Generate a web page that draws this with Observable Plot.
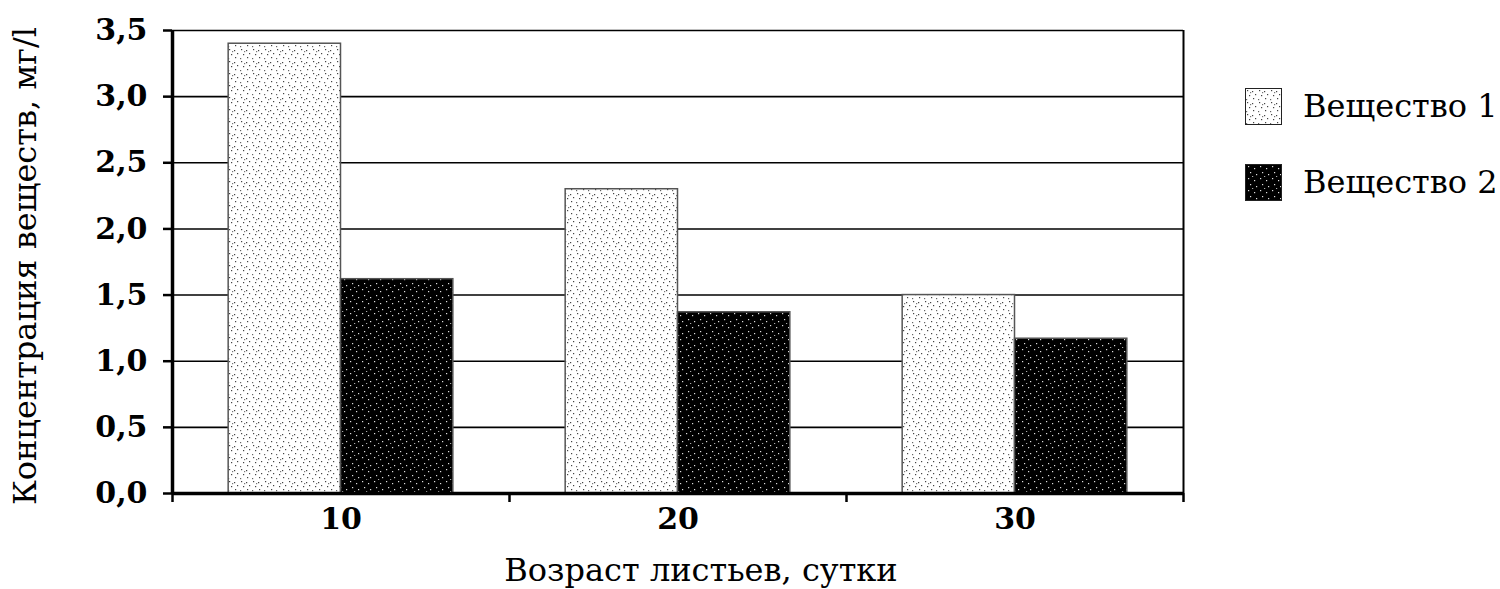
<!DOCTYPE html>
<html>
<head>
<meta charset="utf-8">
<script src="https://cdn.jsdelivr.net/npm/d3@7"></script>
<script src="https://cdn.jsdelivr.net/npm/@observablehq/plot@0.6"></script>
<style>
  body { margin: 0; background: white; }
  #wrap { position: relative; width: 1500px; height: 589px; }
  #legend { position: absolute; left: 1245px; top: 87px; font-family: "DejaVu Serif", serif; font-size: 32px; color: black; }
  .item { display: flex; align-items: center; height: 38px; margin-bottom: 38px; }
  .sw { width: 35px; height: 35px; border: 1.5px solid #222; margin-right: 21px; }
</style>
</head>
<body>
<svg width="0" height="0" style="position:absolute">
  <defs>
    <pattern id="dots1" width="12" height="12" patternUnits="userSpaceOnUse">
      <rect width="12" height="12" fill="white"/>
      <rect x="1" y="1" width="1.2" height="1.2" fill="#444"/>
      <rect x="6" y="2" width="1.2" height="1.2" fill="#444"/>
      <rect x="9" y="5" width="1.2" height="1.2" fill="#444"/>
      <rect x="3" y="6" width="1.2" height="1.2" fill="#444"/>
      <rect x="7" y="9" width="1.2" height="1.2" fill="#444"/>
      <rect x="0" y="10" width="1.2" height="1.2" fill="#666"/>
      <rect x="4" y="3" width="1.2" height="1.2" fill="#777"/>
    </pattern>
    <pattern id="dots2" width="12" height="12" patternUnits="userSpaceOnUse">
      <rect width="12" height="12" fill="black"/>
      <rect x="2" y="1" width="1.2" height="1.2" fill="#ddd"/>
      <rect x="8" y="3" width="1.2" height="1.2" fill="#ddd"/>
      <rect x="4" y="7" width="1.2" height="1.2" fill="#ddd"/>
      <rect x="10" y="9" width="1.2" height="1.2" fill="#ddd"/>
      <rect x="6" y="11" width="1.2" height="1.2" fill="#aaa"/>
    </pattern>
  </defs>
</svg>
<div id="wrap">
  <div id="chart"></div>
  <div id="legend"></div>
</div>
<script>
const locale = d3.formatLocale({decimal: ',', thousands: ' ', grouping: [3], currency: ['', '']})

// данные
const ages = [10, 20, 30]
const substances = ['Вещество 1', 'Вещество 2']
const substance1 = [3.4, 2.3, 1.5]
const substance2 = [1.62, 1.37, 1.17]
const yTicks = [0, 0.5, 1, 1.5, 2, 2.5, 3, 3.5]
const groupEdges = [5, 15, 25, 35]
const patterns = ['url(#dots1)', 'url(#dots2)']

const yLabel = 'Концентрация веществ, мг/l'
const xLabel = 'Возраст листьев, сутки'

// ширина столбика: треть группы
const step = ages[1] - ages[0]
const barW = step / 3

const rows = []
;[substance1, substance2].forEach((vals, i) => {
  ages.forEach((age, j) => {
    rows.push({
      age: age,
      substance: substances[i],
      value: vals[j],
      x1: age + (i - 1) * barW,
      x2: age + i * barW,
    })
  })
})

let chart = Plot.plot({
  width: 1500,
  height: 589,
  marginLeft: 172,
  marginRight: 317,
  marginTop: 30,
  marginBottom: 96,
  style: { fontFamily: 'DejaVu Serif', background: 'white', color: 'black', overflow: 'visible' },
  x: { domain: [groupEdges[0], groupEdges[groupEdges.length - 1]] },
  y: { domain: [0, 3.5] },
  color: { domain: substances, range: patterns },
  marks: [
    Plot.ruleY(yTicks.slice(1), { stroke: 'black', strokeWidth: 1.6 }),
    Plot.rectY(rows, { x1: 'x1', x2: 'x2', y: 'value', fill: 'substance', stroke: '#555', strokeWidth: 1.5 }),
    Plot.ruleX([groupEdges[groupEdges.length - 1]], { stroke: 'black', strokeWidth: 2 }),
    Plot.ruleX([groupEdges[0]], { stroke: 'black', strokeWidth: 3.5 }),
    Plot.ruleY([0], { stroke: 'black', strokeWidth: 3.5 }),
    Plot.axisY(yTicks, {
      tickSize: 9, tickPadding: 16, strokeWidth: 2.5,
      tickFormat: locale.format('.1f'),
      fontSize: 30, fontWeight: 'bold', label: null,
    }),
    Plot.axisX(groupEdges, { tickSize: 9, strokeWidth: 2.5, tickFormat: () => '', label: null }),
    Plot.axisX(ages, { tickSize: 0, tickPadding: 14, fontSize: 30, fontWeight: 'bold', label: null }),
    Plot.text([xLabel], { text: d => d, frameAnchor: 'bottom', textAnchor: 'middle', dx: 23, dy: 87, fontSize: 32 }),
    Plot.text([yLabel], { text: d => d, frameAnchor: 'left', textAnchor: 'middle', rotate: -90, dx: -147, dy: 4, fontSize: 32 }),
  ],
})
d3.select('#chart').append(() => chart)

// легенда справа
const legend = d3.select('#legend')
substances.forEach((s, i) => {
  const item = legend.append('div').attr('class', 'item')
  item.append('svg').attr('class', 'sw').attr('width', 35).attr('height', 35)
    .append('rect').attr('width', 35).attr('height', 35).attr('fill', patterns[i])
  item.append('span').text(s)
})
</script>
</body>
</html>
